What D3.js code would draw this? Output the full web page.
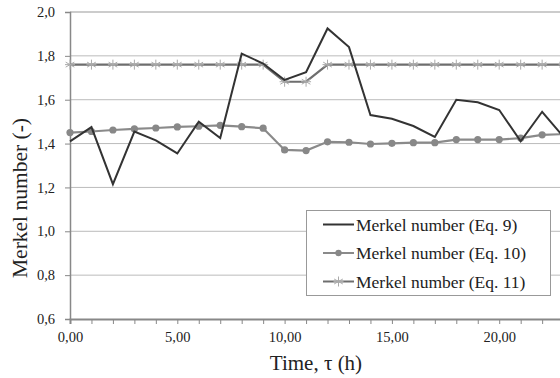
<!DOCTYPE html>
<html>
<head>
<meta charset="utf-8">
<script src="https://cdn.jsdelivr.net/npm/d3@7"></script>
<style>
  body { margin: 0; background: #fff; }
  svg text { fill: #222; }
</style>
</head>
<body>
<script>
// hours 0..23, Merkel number from three equations
var hours = [0,1,2,3,4,5,6,7,8,9,10,11,12,13,14,15,16,17,18,19,20,21,22,23];
var eq9  = [1.41,1.475,1.215,1.455,1.415,1.355,1.50,1.425,1.81,1.765,1.69,1.725,1.925,1.84,1.53,1.513,1.48,1.43,1.60,1.588,1.553,1.41,1.545,1.43];
var eq10 = [1.45,1.455,1.462,1.467,1.471,1.476,1.479,1.483,1.477,1.47,1.371,1.368,1.408,1.406,1.398,1.401,1.404,1.404,1.418,1.418,1.418,1.425,1.44,1.443];
var eq11 = [1.76,1.76,1.76,1.76,1.76,1.76,1.76,1.76,1.76,1.76,1.682,1.682,1.76,1.76,1.76,1.76,1.76,1.76,1.76,1.76,1.76,1.76,1.76,1.76];
var yTicks = [0.6,0.8,1.0,1.2,1.4,1.6,1.8,2.0];
var xTicks = [0,5,10,15,20];
var legendNames = ["Merkel number (Eq. 9)", "Merkel number (Eq. 10)", "Merkel number (Eq. 11)"];

var width = 560, height = 378;
var serif = "'Times New Roman', 'Liberation Serif', 'DejaVu Serif', serif";
var svg = d3.select("body").append("svg")
    .attr("width", width)
    .attr("height", height)
    .attr("font-family", serif);

var x = d3.scaleLinear().domain([0, 23]).range([70, 563.6]);
var y = d3.scaleLinear().domain([0.6, 2.0]).range([319, 12]);

var fmt = function(d) { return d.toFixed(1).replace(".", ","); };

// gridlines
svg.append("g").selectAll("line")
    .data(yTicks.slice(1))
    .enter().append("line")
    .attr("x1", 70).attr("x2", width)
    .attr("y1", function(d) { return y(d); })
    .attr("y2", function(d) { return y(d); })
    .attr("stroke", function(d) { return d === 2.0 ? "#999" : "#bbb"; })
    .attr("stroke-width", 1);

// y axis
var yAxis = svg.append("g")
    .attr("transform", "translate(70,0)")
    .call(d3.axisLeft(y).tickValues(yTicks).tickFormat(fmt).tickSize(5).tickPadding(10));
yAxis.attr("font-family", serif).attr("font-size", 14.5);
yAxis.select(".domain").attr("stroke", "#888").attr("stroke-width", 1.5);
yAxis.selectAll(".tick line").attr("stroke", "#888");
yAxis.selectAll(".tick text").attr("fill", "#222");

// x axis
var xAxis = svg.append("g")
    .attr("transform", "translate(0,319)")
    .call(d3.axisBottom(x).tickValues(hours).tickSize(5).tickPadding(8)
        .tickFormat(function(d) { return xTicks.indexOf(d) >= 0 ? d.toFixed(2).replace(".", ",") : ""; }));
xAxis.attr("font-family", serif).attr("font-size", 14.5);
xAxis.select(".domain").attr("stroke", "#888").attr("stroke-width", 2);
xAxis.selectAll(".tick line").attr("stroke", "#888");
xAxis.selectAll(".tick text").attr("fill", "#222");

// axis titles
svg.append("text")
    .attr("x", 316).attr("y", 370)
    .attr("text-anchor", "middle")
    .attr("font-size", 21)
    .text("Time, \u03c4 (h)");

svg.append("text")
    .attr("transform", "translate(27,198) rotate(-90)")
    .attr("text-anchor", "middle")
    .attr("font-size", 21.5)
    .text("Merkel number (-)");

var line = d3.line()
    .x(function(d, i) { return x(hours[i]); })
    .y(function(d) { return y(d); });

// Eq. 11 line with star markers
svg.append("path")
    .attr("d", line(eq11))
    .attr("fill", "none")
    .attr("stroke", "#6e6e6e")
    .attr("stroke-width", 2.2);

function star(g, cx, cy, r, color) {
    [0, 60, 120].forEach(function(a) {
        var rad = a * Math.PI / 180;
        g.append("line")
            .attr("x1", cx - r * Math.sin(rad)).attr("y1", cy - r * Math.cos(rad))
            .attr("x2", cx + r * Math.sin(rad)).attr("y2", cy + r * Math.cos(rad))
            .attr("stroke", color).attr("stroke-width", 1);
    });
    g.append("line")
        .attr("x1", cx - r).attr("x2", cx + r)
        .attr("y1", cy).attr("y2", cy)
        .attr("stroke", color).attr("stroke-width", 1);
}

var starG = svg.append("g");
eq11.forEach(function(d, i) { star(starG, x(hours[i]), y(d), 5, "#aaa"); });

// Eq. 10 line with dots
svg.append("path")
    .attr("d", line(eq10))
    .attr("fill", "none")
    .attr("stroke", "#8a8a8a")
    .attr("stroke-width", 2.2);

svg.append("g").selectAll("circle")
    .data(eq10)
    .enter().append("circle")
    .attr("cx", function(d, i) { return x(hours[i]); })
    .attr("cy", function(d) { return y(d); })
    .attr("r", 3.6)
    .attr("fill", "#888");

// Eq. 9 line
svg.append("path")
    .attr("d", line(eq9))
    .attr("fill", "none")
    .attr("stroke", "#333")
    .attr("stroke-width", 2);

// legend
var legend = svg.append("g");
legend.append("rect")
    .attr("x", 306.5).attr("y", 210.5)
    .attr("width", 244).attr("height", 85)
    .attr("fill", "#fff")
    .attr("stroke", "#999")
    .attr("stroke-width", 1);

var rowsY = [224.5, 253, 281.5];
var colors = ["#333", "#8a8a8a", "#6e6e6e"];
legendNames.forEach(function(name, i) {
    legend.append("line")
        .attr("x1", 323).attr("x2", 354)
        .attr("y1", rowsY[i]).attr("y2", rowsY[i])
        .attr("stroke", colors[i]).attr("stroke-width", 2);
    if (i === 1) {
        legend.append("circle").attr("cx", 338.5).attr("cy", rowsY[i]).attr("r", 3.2).attr("fill", "#888");
    }
    if (i === 2) {
        star(legend, 338.5, rowsY[i], 5, "#aaa");
    }
    legend.append("text")
        .attr("x", 356).attr("y", rowsY[i] + 6)
        .attr("font-size", 17.5)
        .text(name);
});
</script>
</body>
</html>
